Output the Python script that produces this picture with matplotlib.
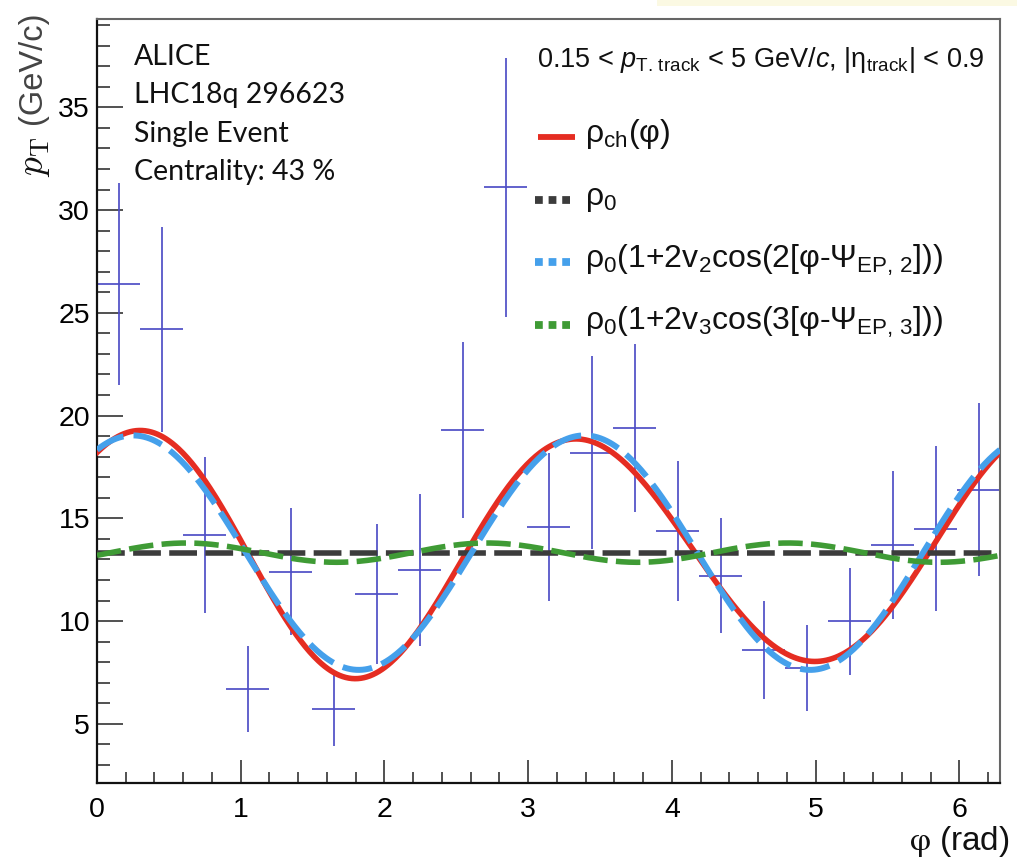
import numpy as np
import matplotlib
matplotlib.use("Agg")
import matplotlib.pyplot as plt
from matplotlib.lines import Line2D
from matplotlib.patches import Rectangle
from matplotlib.ticker import MultipleLocator

plt.rcParams["font.family"] = ["Liberation Sans", "DejaVu Sans"]
plt.rcParams["mathtext.fontset"] = "custom"
plt.rcParams["mathtext.rm"] = "Liberation Sans"
plt.rcParams["mathtext.it"] = "Liberation Sans:italic"
plt.rcParams["mathtext.bf"] = "Liberation Sans:bold"

# ---- single-event track pT density per azimuthal bin ----
n_bins = 21
pt_values = [26.4, 24.2, 14.2, 6.7, 12.4, 5.7, 11.3, 12.5, 19.3, 31.1, 14.6,
             18.2, 19.4, 14.4, 12.2, 8.6, 7.7, 10.0, 13.7, 14.5, 16.4]
pt_errors = [4.9, 5.0, 3.8, 2.1, 3.1, 1.8, 3.4, 3.7, 4.3, 6.3, 3.6,
             4.7, 4.1, 3.4, 2.8, 2.4, 2.1, 2.6, 3.6, 4.0, 4.2]

# ---- fit parameters of the background modulation ----
rho0 = 13.33
v2, psi_ep2 = 0.214, 0.25
v3, psi_ep3 = 0.0176, 0.62

info_lines = ["ALICE", "LHC18q 296623", "Single Event", "Centrality: 43 %"]
x_ticks = [0, 1, 2, 3, 4, 5, 6]
y_ticks = [5, 10, 15, 20, 25, 30, 35]

W, H = 1017, 859
fig = plt.figure(figsize=(W / 100, H / 100), dpi=100)
ax = fig.add_axes([97 / W, 1 - 783 / H, (1000 - 97) / W, (783 - 19) / H])

edges = np.linspace(0, 2 * np.pi, n_bins + 1)
centers = 0.5 * (edges[:-1] + edges[1:])
half_w = 0.5 * np.diff(edges)

ax.errorbar(centers, pt_values, xerr=half_w, yerr=pt_errors, fmt="none",
            ecolor="#4e4ec6", elinewidth=1.25, capsize=0, zorder=2)

phi = np.linspace(0, 2 * np.pi, 600)
mod2 = 2 * v2 * np.cos(2 * (phi - psi_ep2))
mod3 = 2 * v3 * np.cos(3 * (phi - psi_ep3))
c_red, c_black, c_blue, c_green = "#e52d22", "#3c3c3c", "#45a0eb", "#3f9b35"

ax.plot(phi, rho0 * (1 + mod2 + mod3), color=c_red, lw=4.0, zorder=3)
ax.plot(phi, np.full_like(phi, rho0), color=c_black, lw=4.0,
        dashes=(5.0, 1.5), zorder=4)
ax.plot(phi, rho0 * (1 + mod2), color=c_blue, lw=4.3,
        dashes=(5.0, 1.7), zorder=5)
ax.plot(phi, rho0 * (1 + mod3), color=c_green, lw=4.0,
        dashes=(4.4, 1.5), zorder=6)

ax.set_xlim(0, 2 * np.pi)
ax.set_ylim(2.12, 39.3)
ax.set_xticks(x_ticks)
ax.set_yticks(y_ticks)
ax.xaxis.set_minor_locator(MultipleLocator(0.2))
ax.yaxis.set_minor_locator(MultipleLocator(1))
ax.tick_params(which="both", direction="in", top=False, right=False,
               width=1.1, color="#222222")
ax.tick_params(axis="y", which="major", length=19, pad=5, labelsize=20.5)
ax.tick_params(axis="y", which="minor", length=9.5)
ax.tick_params(axis="x", which="major", length=16.5, pad=10, labelsize=20.5)
ax.tick_params(axis="x", which="minor", length=8)
for s in ("left", "bottom"):
    ax.spines[s].set_linewidth(1.6)
    ax.spines[s].set_color("#111111")
for s in ("top", "right"):
    ax.spines[s].set_linewidth(1.5)
    ax.spines[s].set_color("#666666")


def fx(px):
    return px / W


def fy(py):
    return 1 - py / H


# axis titles
fig.text(fx(32.5), fy(68), "(GeV/c)", rotation=90, ha="center", va="center",
         fontsize=23.5, color="#444444")
fig.text(fx(34), fy(157), r"$p_{\mathrm{T}}$", rotation=90, ha="center",
         va="center", fontsize=27, math_fontfamily="cm", color="#111111")
fig.text(fx(1010), fy(850), r"$\mathrm{\varphi}$ (rad)", ha="right",
         va="baseline", fontsize=24, math_fontfamily="stix", color="#111111")

# event information
for i, line in enumerate(info_lines):
    fig.text(fx(134), fy(65 + 38.3 * i), line, family="Lato", fontsize=20.5,
             va="baseline", color="#111111")

# legend
fig.text(fx(537), fy(67),
         r"$\text{0.15 < }p_{\text{T. track}}\text{ < 5 GeV/}c"
         r"\text{, |}\mathrm{\eta}_{\text{track}}\text{| < 0.9}$",
         fontsize=19.5, va="baseline", color="#111111")

entries = [
    (c_red, "solid", r"$\mathrm{\rho}_{\text{ch}}\text{(}\mathrm{\varphi}\text{)}$"),
    (c_black, "dot", r"$\mathrm{\rho}_{\text{0}}$"),
    (c_blue, "dot", r"$\mathrm{\rho}_{\text{0}}\text{(1+2v}_{\text{2}}\text{cos(2[}"
                    r"\mathrm{\varphi}\text{-}\mathrm{\Psi}_{\text{EP, 2}}\text{]))}$"),
    (c_green, "dot", r"$\mathrm{\rho}_{\text{0}}\text{(1+2v}_{\text{3}}\text{cos(3[}"
                     r"\mathrm{\varphi}\text{-}\mathrm{\Psi}_{\text{EP, 3}}\text{]))}$"),
]
for i, (col, style, label) in enumerate(entries):
    yy = 137 + 62.7 * i
    if style == "solid":
        fig.add_artist(Line2D([fx(538), fx(575)], [fy(yy), fy(yy)], color=col,
                              lw=4.2, solid_capstyle="butt"))
    else:
        fig.add_artist(Line2D([fx(535), fx(573)], [fy(yy), fy(yy)], color=col,
                              lw=5.6, dashes=(1.0, 0.75), dash_capstyle="butt"))
    fig.text(fx(585), fy(yy + 5), label, fontsize=23, va="baseline",
             color="#111111")

fig.add_artist(Rectangle((fx(657), fy(6)), fx(1017 - 657), 6 / H,
                         transform=fig.transFigure, color="#fbf9e3", lw=0))

fig.savefig("out.png", dpi=100)
